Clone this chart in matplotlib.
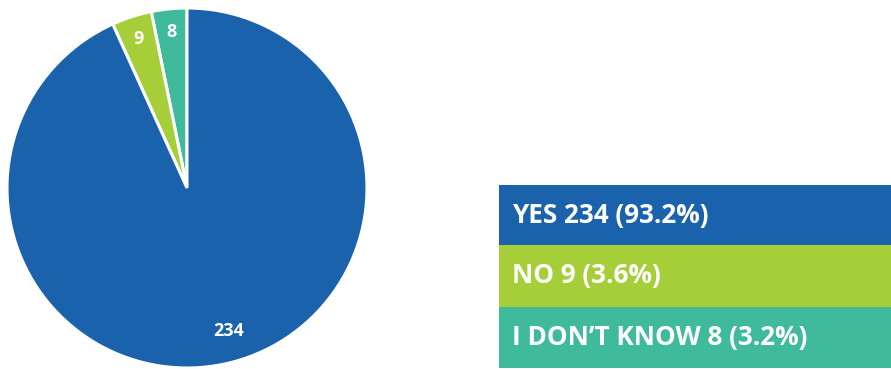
import matplotlib

matplotlib.use("Agg")
import matplotlib.pyplot as plt
import numpy as np

# Survey answers, drawn counter-clockwise from 12 o'clock
answers = ["I DON\u2019T KNOW", "NO", "YES"]
counts = [8, 9, 234]
colors = ["#3fbb9b", "#a6ce39", "#1a62ab"]

# Legend rows, top to bottom
legend_order = ["YES", "NO", "I DON\u2019T KNOW"]

W, H = 891, 369
plt.rcParams["font.family"] = ["Open Sans", "DejaVu Sans"]

fig = plt.figure(figsize=(W / 100, H / 100), dpi=100)

# ---- pie ----
cx, cy, r = 187, 188, 180
ax = fig.add_axes([(cx - r) / W, (H - cy - r) / H, 2 * r / W, 2 * r / H])
wedges, _ = ax.pie(counts, colors=colors, startangle=90, counterclock=True,
                   wedgeprops=dict(edgecolor="white", linewidth=2.2))
ax.set_xlim(-1, 1)
ax.set_ylim(-1, 1)
ax.set_aspect("equal")
ax.axis("off")

for w, n in zip(wedges, counts):
    mid = np.deg2rad((w.theta1 + w.theta2) / 2)
    dist = 0.87 if n < 50 else 0.83
    if n >= 50:
        mid += np.deg2rad(4)
    ax.text(dist * np.cos(mid), dist * np.sin(mid), str(n), color="white",
            fontsize=13, fontweight="bold", ha="center", va="center")

# ---- legend boxes ----
total = sum(counts)
lookup = dict(zip(answers, zip(counts, colors)))
box_left, box_top = 499, 185
row_h = [60, 62, 61]
lax = fig.add_axes([0, 0, 1, 1])
lax.set_xlim(0, W)
lax.set_ylim(H, 0)
lax.axis("off")
y = box_top
for name, h in zip(legend_order, row_h):
    n, c = lookup[name]
    lax.add_patch(plt.Rectangle((box_left, y), W - box_left, h, color=c, lw=0))
    lax.text(box_left + 13, y + h / 2, f"{name} {n} ({n / total:.1%})",
             color="white", fontsize=18.8, fontweight="bold", va="center", ha="left")
    y += h

fig.savefig("out.png", dpi=100)
